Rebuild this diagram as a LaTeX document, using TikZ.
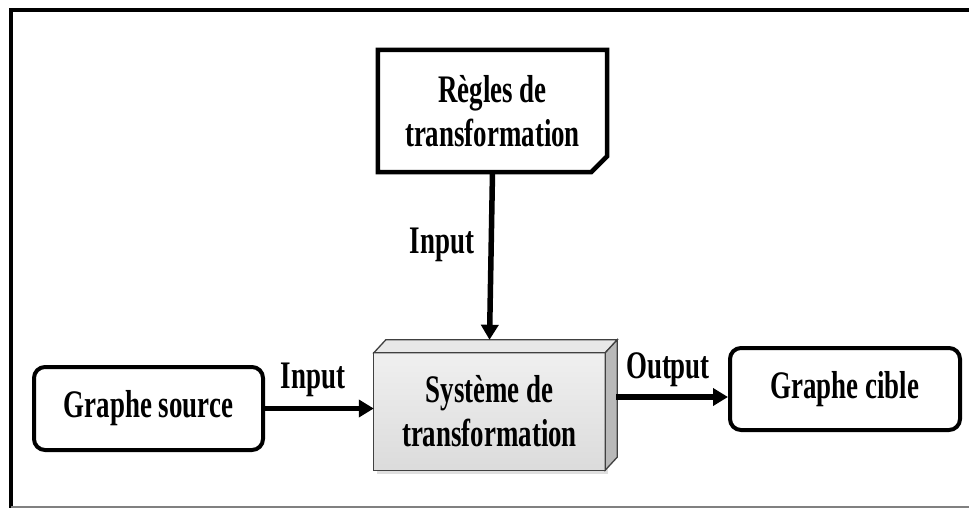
\documentclass[tikz,border=0pt]{standalone}
\usepackage{fontspec}
\setmainfont{Liberation Serif}[FakeStretch=0.69]
\usetikzlibrary{calc,arrows.meta}
\begin{document}
\begin{tikzpicture}[x=1pt,y=-1pt,
  every node/.style={font=\fontsize{39}{44}\selectfont\bfseries, align=center, inner sep=0pt},
  roundbox/.style={draw, line width=4pt, rounded corners=11pt},
  arr/.style={line width=5.5pt, -{Triangle[length=15pt,width=17pt]}}
]
% canvas and frame
\fill[white] (0,0) rectangle (969,508);
\useasboundingbox (0,0) rectangle (969,508);
\draw[line width=4pt] (11,508) -- (11,10) -- (969,10);
\draw[line width=1.5pt, gray] (11,507) -- (969,507);

% rules document (folded corner bottom right)
\node[minimum width=229pt, minimum height=122pt] (rules) at (492.5,111) {Règles de\\transformation};
\draw[line width=4.5pt, line join=miter]
  (rules.north west) -- (rules.north east) -- ($(rules.south east)+(0,-16)$)
  -- ($(rules.south east)+(-16,0)$) -- (rules.south west) -- cycle;
\fill ($(rules.south east)+(0,-16)$) -- ($(rules.south east)+(-16,0)$) -- ($(rules.south east)+(-3,-16)$) -- cycle;

% transformation system (3D block)
\node[minimum width=231pt, minimum height=117pt] (sys) at (489.5,411.5) {};
\fill[gray!25] ($(sys.south west)+(3,4)$) rectangle ($(sys.north east)+(3,4)$);
\draw[line width=1.3pt, draw=black!75, top color=gray!12, bottom color=gray!28]
  (sys.south west) rectangle (sys.north east);
\draw[line width=1.3pt, draw=black!75, fill=gray!18]
  (sys.north west) -- ++(12,-13) -- ($(sys.north east)+(12,-13)$) -- (sys.north east) -- cycle;
\draw[line width=1.3pt, draw=black!75, fill=gray!55]
  (sys.north east) -- ++(12,-13) -- ($(sys.south east)+(12,-13)$) -- (sys.south east) -- cycle;
\node at (sys.center) {Système de\\transformation};

% source and target graphs
\node[roundbox, minimum width=229pt, minimum height=83pt] (src) at (148.5,408.5) {Graphe source};
\node[roundbox, minimum width=230pt, minimum height=82pt] (tgt) at (845,389) {Graphe cible};

% connectors
\coordinate (systop) at ($(sys.north)+(0,-13)$);
\draw[arr] (rules.south) -- (systop);
\node at (442,245) {Input};

\draw[arr] (src.east) -- (src.east -| sys.west);
\node at (313,380) {Input};

\coordinate (outstart) at ($(sys.east)+(11,-14.5)$);
\draw[arr] (outstart) -- (outstart -| tgt.west);
\node at (668,370) {Output};
\end{tikzpicture}
\end{document}
